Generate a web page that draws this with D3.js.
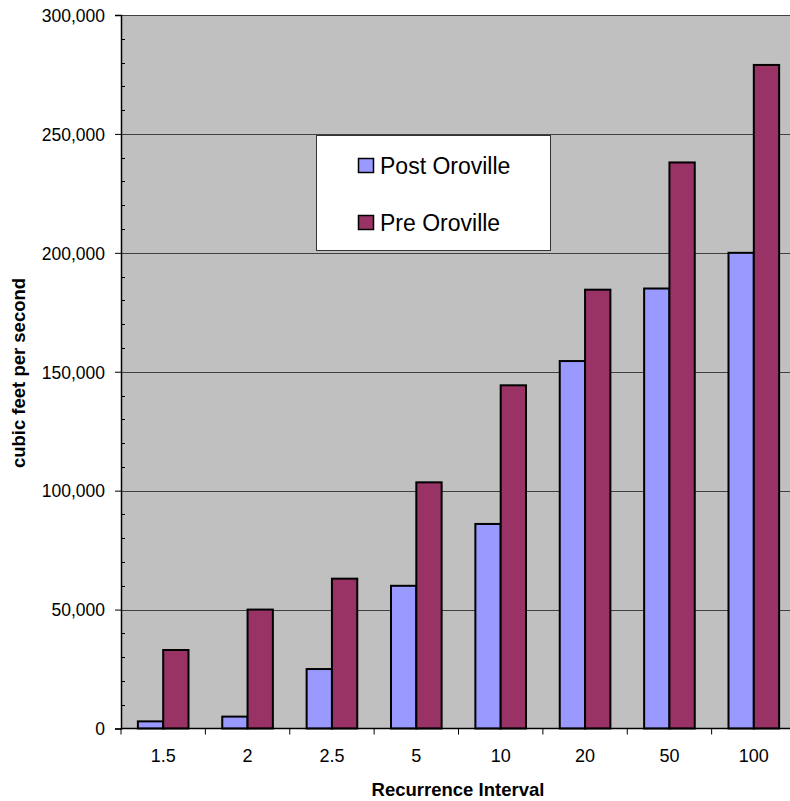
<!DOCTYPE html>
<html>
<head>
<meta charset="utf-8">
<script src="https://cdn.jsdelivr.net/npm/d3@7"></script>
<style>
  html, body { margin: 0; padding: 0; background: #fff; }
  svg { display: block; }
  text { font-family: "Liberation Sans", Arial, sans-serif; fill: #000; }
</style>
</head>
<body>
<svg id="chart" width="790" height="801"></svg>
<script>
// Flood peak discharge by recurrence interval, Feather River
const intervals = ["1.5", "2", "2.5", "5", "10", "20", "50", "100"];
const seriesNames = ["Post Oroville", "Pre Oroville"];
const postOroville = [3000, 5000, 25000, 60000, 86000, 154500, 185000, 200000];
const preOroville = [33000, 50000, 63000, 103500, 144300, 184500, 238000, 279000];
const yTicks = [0, 50000, 100000, 150000, 200000, 250000, 300000];
const colors = ["#9999FF", "#993366"];

const svg = d3.select("#chart");
const plot = { left: 121, right: 796, top: 15, bottom: 728.5 };

const x = d3.scaleBand().domain(intervals).range([plot.left, plot.right]).paddingInner(0).paddingOuter(0);
const y = d3.scaleLinear().domain([0, 300000]).range([plot.bottom, plot.top]);

// Bars take 60% of each category slot, split between the two series
const groupPad = x.bandwidth() * 0.2;
const x1 = d3.scaleBand().domain(seriesNames).range([groupPad, x.bandwidth() - groupPad]);

// Plot background
svg.append("rect")
  .attr("x", plot.left).attr("y", plot.top)
  .attr("width", plot.right - plot.left).attr("height", plot.bottom - plot.top)
  .attr("fill", "#C0C0C0");

// Horizontal gridlines
svg.append("g").selectAll("line")
  .data(yTicks.filter(d => d > 0))
  .join("line")
  .attr("x1", plot.left).attr("x2", plot.right)
  .attr("y1", d => Math.round(y(d)) + 0.5).attr("y2", d => Math.round(y(d)) + 0.5)
  .attr("stroke", "#404040").attr("stroke-width", 1);

// Bars
const rows = intervals.map((k, i) => ({ key: k, values: [postOroville[i], preOroville[i]] }));
const groups = svg.append("g").selectAll("g")
  .data(rows)
  .join("g")
  .attr("transform", d => `translate(${x(d.key)},0)`);

groups.selectAll("rect")
  .data(d => d.values.map((v, j) => ({ name: seriesNames[j], value: v, j })))
  .join("rect")
  .attr("x", d => x1(d.name))
  .attr("y", d => y(d.value))
  .attr("width", x1.bandwidth())
  .attr("height", d => y(0) - y(d.value))
  .attr("fill", d => colors[d.j])
  .attr("stroke", "#000")
  .attr("stroke-width", 2);

// Y axis: major ticks outside, minor ticks inside
const yAxis = d3.axisLeft(y).tickValues(yTicks).tickSize(6).tickPadding(10)
  .tickFormat(d3.format(","));
const gy = svg.append("g").attr("transform", `translate(${plot.left},0)`).call(yAxis);
gy.select(".domain").attr("stroke", "#000").attr("stroke-width", 1.5);
gy.selectAll(".tick line").attr("stroke", "#000");
gy.selectAll(".tick text")
  .attr("font-size", 17.5)
  .attr("font-family", "Liberation Sans, Arial, sans-serif")
  .attr("dy", "0.36em");

const minor = d3.range(0, 300001, 10000).filter(v => v % 50000 !== 0);
svg.append("g").selectAll("line")
  .data(minor)
  .join("line")
  .attr("x1", plot.left).attr("x2", plot.left + 4)
  .attr("y1", d => Math.round(y(d)) + 0.5).attr("y2", d => Math.round(y(d)) + 0.5)
  .attr("stroke", "#000");

// X axis: ticks at category boundaries, labels centred in each slot
const gx = svg.append("g").attr("transform", `translate(0,${plot.bottom})`);
gx.append("line")
  .attr("x1", plot.left).attr("x2", plot.right)
  .attr("stroke", "#000").attr("stroke-width", 1.5);
gx.selectAll("line.tk")
  .data(intervals.concat(["end"]))
  .join("line").attr("class", "tk")
  .attr("x1", (d, i) => plot.left + i * x.bandwidth())
  .attr("x2", (d, i) => plot.left + i * x.bandwidth())
  .attr("y1", 0).attr("y2", 6)
  .attr("stroke", "#000");
gx.selectAll("text")
  .data(intervals)
  .join("text")
  .attr("x", d => x(d) + x.bandwidth() / 2)
  .attr("y", 33.5)
  .attr("text-anchor", "middle")
  .attr("font-size", 18)
  .text(d => d);

// Axis titles
svg.append("text")
  .attr("x", 458).attr("y", 795.5)
  .attr("text-anchor", "middle")
  .attr("font-size", 18.5).attr("font-weight", "bold")
  .text("Recurrence Interval");

svg.append("text")
  .attr("transform", "translate(25,373) rotate(-90)")
  .attr("text-anchor", "middle")
  .attr("font-size", 18.5).attr("font-weight", "bold")
  .text("cubic feet per second");

// Legend
const legend = svg.append("g");
legend.append("rect")
  .attr("x", 316.5).attr("y", 135.5).attr("width", 234).attr("height", 115)
  .attr("fill", "#fff").attr("stroke", "#333").attr("stroke-width", 1);
const items = legend.selectAll("g.item")
  .data(seriesNames)
  .join("g").attr("class", "item")
  .attr("transform", (d, i) => `translate(358.5,${158.5 + i * 57})`);
items.append("rect")
  .attr("width", 15).attr("height", 14)
  .attr("fill", (d, i) => colors[i])
  .attr("stroke", "#000").attr("stroke-width", 1.5);
items.append("text")
  .attr("x", 21.5).attr("y", 15.5)
  .attr("font-size", 23)
  .text(d => d);
</script>
</body>
</html>
